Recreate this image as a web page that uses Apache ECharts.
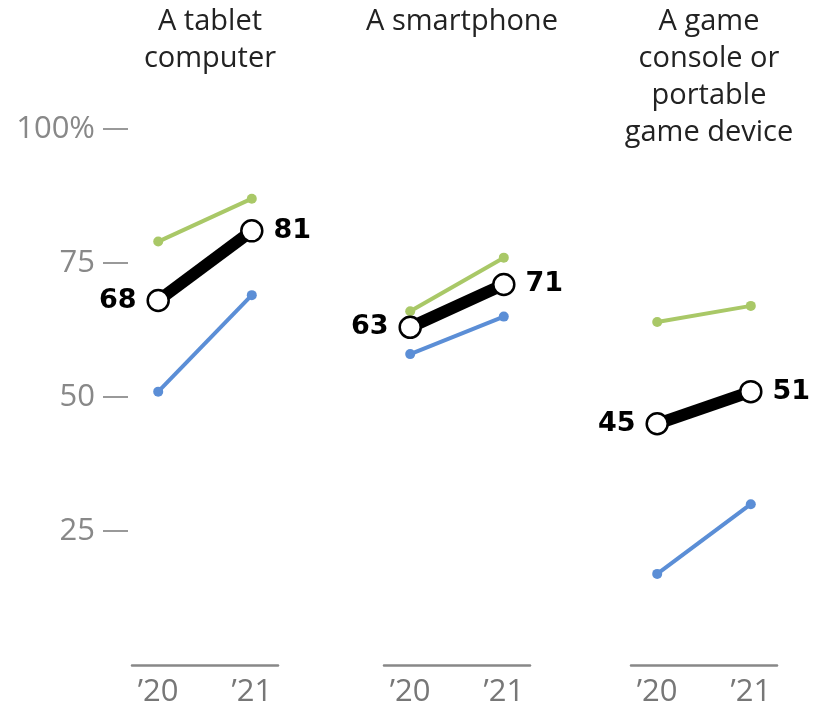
<!DOCTYPE html>
<html><head><meta charset="utf-8">
<script src="https://cdn.jsdelivr.net/npm/echarts@6/dist/echarts.min.js"></script>
<style>html,body{margin:0;padding:0;background:#fff}#c{width:814px;height:711px}</style>
</head><body><div id="c"></div>
<script>
const panelTitles = ['A tablet\ncomputer', 'A smartphone', 'A game\nconsole or\nportable\ngame device'];
const years = ['\u201920', '\u201921'];
const totalValues = [[68, 81], [63, 71], [45, 51]];
const greenValues = [[79, 87], [66, 76], [64, 67]];
const blueValues = [[51, 69], [58, 65], [17, 30]];
const yTicks = [25, 50, 75, 100];

const FONT = 'Open Sans';
const gridLefts = [132, 384, 631];
const gridW = 146;
const grids = [], xAxes = [], yAxes = [], series = [], titles = [];
gridLefts.forEach((l, i) => {
  grids.push({left: l, width: gridW, top: 129, bottom: 46, containLabel: false});
  titles.push({text: panelTitles[i], left: l + gridW / 2, top: -2, textAlign: 'center',
    textStyle: {fontFamily: FONT, fontSize: 29, fontWeight: 'normal', color: '#222', lineHeight: 37}});
  xAxes.push({type: 'value', gridIndex: i, min: -0.28, max: 1.28, splitLine: {show: false},
    axisLine: {show: true, onZero: false, lineStyle: {color: '#888', width: 2.5}},
    axisTick: {show: false},
    axisLabel: {customValues: [0, 1], formatter: v => years[Math.round(v)], color: '#777',
      fontFamily: FONT, fontSize: 31, margin: 12}});
  yAxes.push({type: 'value', gridIndex: i, min: 0, max: 100, interval: 25, offset: 4,
    splitLine: {show: false}, axisLine: {show: false, onZero: false},
    axisTick: {show: i === 0, customValues: yTicks, length: 25, lineStyle: {color: '#999', width: 2}},
    axisLabel: {show: i === 0, customValues: yTicks, formatter: v => v === 100 ? '100%' : String(v),
      color: '#888', fontFamily: FONT, fontSize: 31, margin: 33}});
  const mk = (vals) => vals.map((v, j) => [j, v]);
  series.push({type: 'line', xAxisIndex: i, yAxisIndex: i, data: mk(greenValues[i]),
    lineStyle: {color: '#a9c867', width: 4}, itemStyle: {color: '#a9c867'},
    symbol: 'circle', symbolSize: 10, silent: true, z: 2});
  series.push({type: 'line', xAxisIndex: i, yAxisIndex: i, data: mk(blueValues[i]),
    lineStyle: {color: '#5b8ed6', width: 4}, itemStyle: {color: '#5b8ed6'},
    symbol: 'circle', symbolSize: 10, silent: true, z: 2});
  series.push({type: 'line', xAxisIndex: i, yAxisIndex: i,
    data: totalValues[i].map((v, j) => ({value: [j, v],
      label: {show: true, position: j === 0 ? 'left' : 'right', distance: 10,
        formatter: String(v), color: '#000', fontFamily: 'DejaVu Sans', fontSize: 27, fontWeight: 'bold'}})),
    lineStyle: {color: '#000', width: 12}, itemStyle: {color: '#fff', borderColor: '#000', borderWidth: 2.5},
    symbol: 'circle', symbolSize: 21, showAllSymbol: true, silent: true, z: 3});
});
const chart = echarts.init(document.getElementById('c'), null, {renderer: 'canvas'});
chart.setOption({animation: false, title: titles, grid: grids, xAxis: xAxes, yAxis: yAxes, series: series});
</script></body></html>
